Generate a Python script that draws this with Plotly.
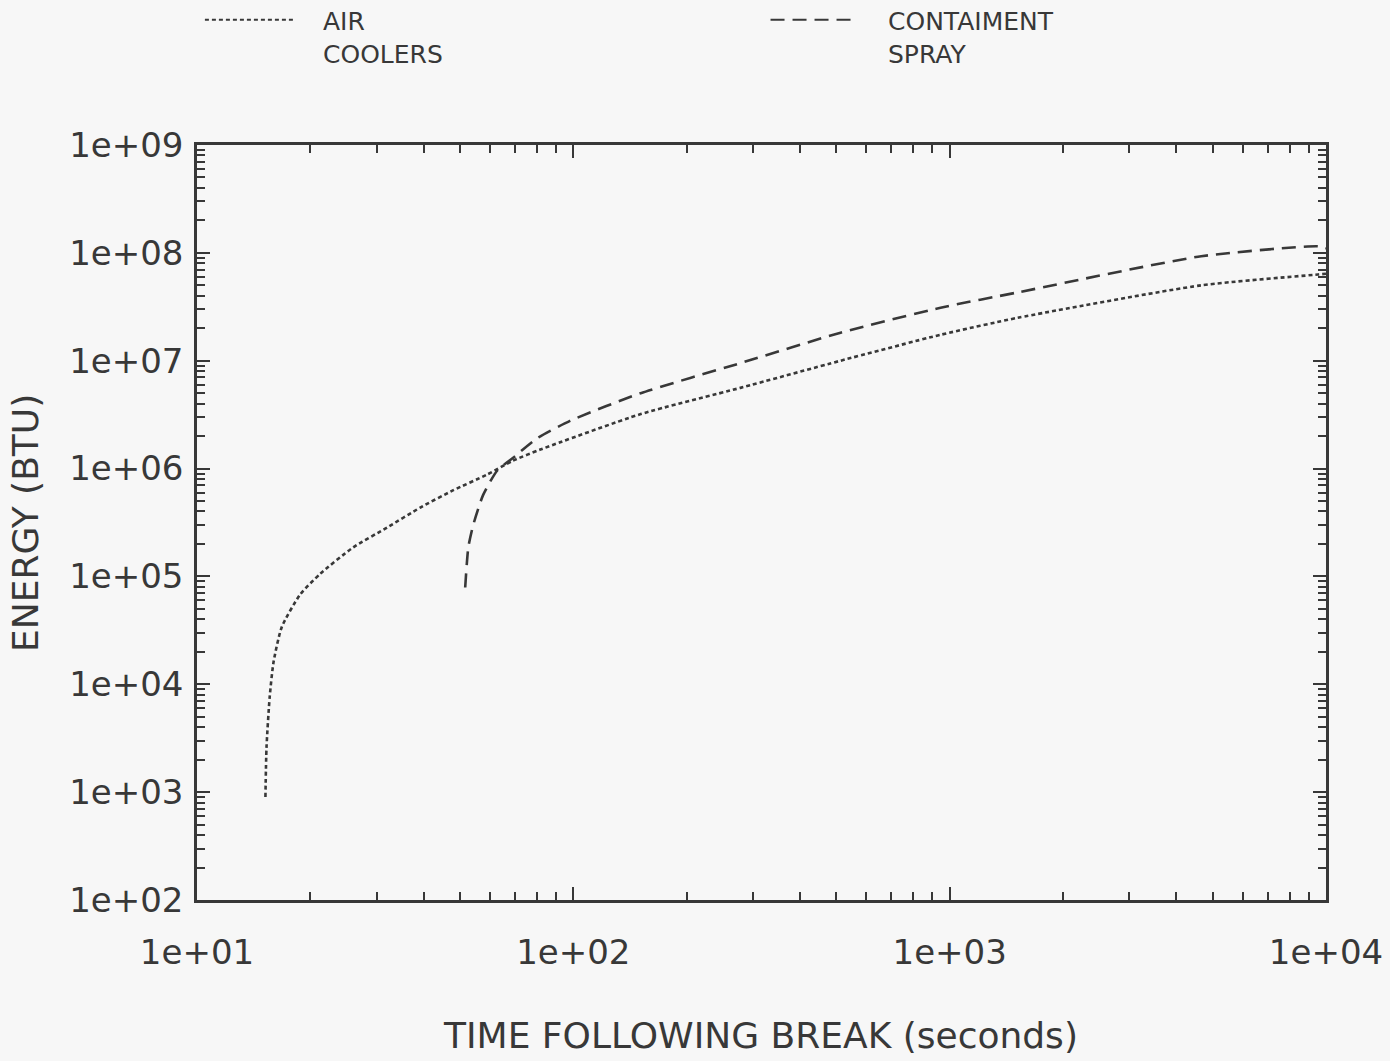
import plotly.graph_objects as go

# ---- data ----
air_time = [15.2, 15.3, 15.6, 15.97, 16.8, 18.8, 21.2, 26.0, 32.0, 39.2, 48.0, 59.0, 69.0, 81.7,
            151, 278, 513, 946, 1517, 4660, 9530, 10000]
air_energy = [900, 2.6e3, 7.6e3, 1.6e4, 3.4e4, 6.8e4, 1.05e5, 1.86e5, 2.84e5, 4.35e5, 6.3e5, 8.8e5,
              1.18e6, 1.5e6, 3.2e6, 5.6e6, 1.0e7, 1.74e7, 2.5e7, 5.0e7, 6.3e7, 6.4e7]

spray_time = [51.6, 52.6, 54.2, 57.6, 62.8, 69.2, 80.0, 98.0, 151, 278, 513, 946, 1517, 4660, 9530, 10000]
spray_energy = [7.9e4, 1.86e5, 3.0e5, 5.7e5, 9.6e5, 1.26e6, 1.9e6, 2.77e6, 5.0e6, 9.5e6, 1.82e7,
                3.1e7, 4.3e7, 9.3e7, 1.15e8, 1.1e8]

y_tickvals = [1e2, 1e3, 1e4, 1e5, 1e6, 1e7, 1e8, 1e9]
y_ticktext = ["1e+02", "1e+03", "1e+04", "1e+05", "1e+06", "1e+07", "1e+08", "1e+09"]
x_tickvals = [1e1, 1e2, 1e3, 1e4]
x_ticktext = ["1e+01", "1e+02", "1e+03", "1e+04"]

legend_labels = ["AIR<br>COOLERS", "CONTAIMENT<br>SPRAY"]
x_title = "TIME FOLLOWING BREAK (seconds)"
y_title = "ENERGY (BTU)"

INK = "#383838"
FONT = "DejaVu Sans"

fig = go.Figure()
fig.add_trace(go.Scatter(x=air_time, y=air_energy, mode="lines", name="AIR COOLERS",
                         line=dict(color=INK, width=2.6, dash="4px,3px", shape="spline", smoothing=0.6),
                         showlegend=False))
fig.add_trace(go.Scatter(x=spray_time, y=spray_energy, mode="lines", name="CONTAIMENT SPRAY",
                         line=dict(color=INK, width=2.6, dash="14px,8px", shape="spline", smoothing=0.6),
                         showlegend=False))

axis_common = dict(
    type="log", showgrid=False, zeroline=False, showline=True, linecolor=INK, linewidth=2.5,
    mirror="ticks", ticks="inside", ticklen=13, tickwidth=2, tickcolor=INK, automargin=False,
    tickfont=dict(family=FONT, size=34, color=INK),
    minor=dict(ticks="inside", dtick="D1", ticklen=8, tickwidth=1.5, tickcolor=INK, showgrid=False),
)

fig.update_xaxes(range=[1, 4], tickmode="array", tickvals=x_tickvals, ticktext=x_ticktext,
                 ticklabelstandoff=20, **axis_common)
fig.update_yaxes(range=[2, 9], tickmode="array", tickvals=y_tickvals, ticktext=y_ticktext,
                 ticklabelstandoff=4, **axis_common)

# axis titles
fig.add_annotation(xref="paper", yref="paper", x=0.499, y=-0.180, xanchor="center", yanchor="middle",
                   text=x_title, showarrow=False, font=dict(family=FONT, size=36, color=INK))
fig.add_annotation(xref="paper", yref="paper", x=-0.152, y=0.5, xanchor="center", yanchor="middle",
                   text=y_title, showarrow=False, textangle=-90, font=dict(family=FONT, size=36, color=INK))

# legend drawn at top (samples + labels)
legend_items = [
    dict(x0=0.007, x1=0.087, tx=0.110, dash="4px,3px", label=legend_labels[0]),
    dict(x0=0.508, x1=0.583, tx=0.610, dash="14px,8px", label=legend_labels[1]),
]
for it in legend_items:
    fig.add_shape(type="line", xref="paper", yref="paper", x0=it["x0"], x1=it["x1"],
                  y0=1.166, y1=1.166, line=dict(color=INK, width=2, dash=it["dash"]))
    fig.add_annotation(xref="paper", yref="paper", x=it["tx"], y=1.185, xanchor="left", yanchor="top",
                       text=it["label"], showarrow=False, align="left",
                       font=dict(family=FONT, size=25, color=INK))

fig.update_layout(
    width=1390, height=1061,
    margin=dict(l=197, r=64, t=145, b=161),
    paper_bgcolor="#f7f7f7", plot_bgcolor="#f7f7f7",
    showlegend=False,
)

fig.write_html("out.html")
